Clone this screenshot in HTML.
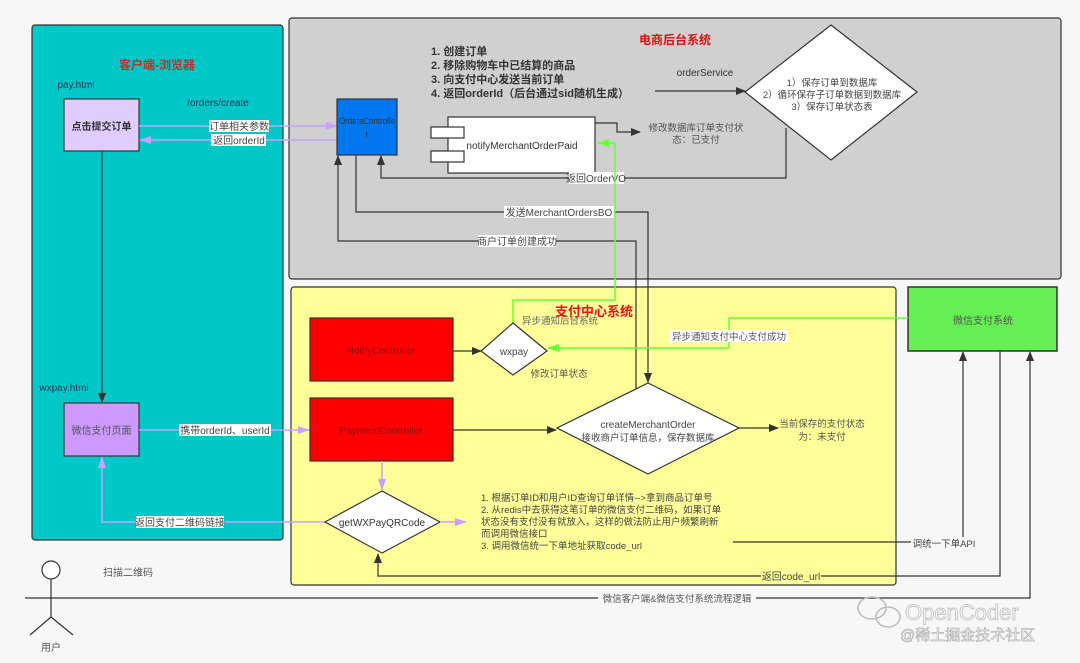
<!DOCTYPE html>
<html><head><meta charset="utf-8"><style>
html,body{margin:0;padding:0;background:#f7f7f7;}
svg{display:block;font-family:"Liberation Sans","Noto Sans CJK SC",sans-serif;}
</style></head><body>
<svg width="1080" height="663" viewBox="0 0 1080 663" xmlns="http://www.w3.org/2000/svg">
<defs>
<marker id="ab" markerWidth="10" markerHeight="10" refX="9" refY="5" orient="auto" markerUnits="userSpaceOnUse"><path d="M0,1 L10,5 L0,9 Z" fill="#333"/></marker>
<marker id="ap" markerWidth="12" markerHeight="10" refX="11" refY="5" orient="auto" markerUnits="userSpaceOnUse"><path d="M0,1 L12,5 L0,9 Z" fill="#c9a0ff"/></marker>
<marker id="ag" markerWidth="12" markerHeight="10" refX="11" refY="5" orient="auto" markerUnits="userSpaceOnUse"><path d="M0,1 L12,5 L0,9 Z" fill="#66ff33"/></marker>
</defs>
<rect width="1080" height="663" fill="#f7f7f7"/>
<rect x="32" y="25" width="251" height="515" rx="3" fill="#00c8c8" stroke="#333" stroke-width="1.2"/>
<rect x="289" y="18" width="772" height="261" rx="3" fill="#d0d0d0" stroke="#333" stroke-width="1.2"/>
<rect x="291" y="287" width="605" height="298" rx="3" fill="#ffff99" stroke="#333" stroke-width="1.2"/>
<rect x="908" y="287" width="149" height="64" fill="#66ee55" stroke="#333" stroke-width="1.5"/>
<text x="983" y="324" font-size="10" fill="#555" text-anchor="middle">微信支付系统</text>

<text x="157" y="69" font-size="12" font-weight="bold" fill="#c0302a" text-anchor="middle">客户端-浏览器</text>
<text x="675" y="44" font-size="12" font-weight="bold" fill="#dd1111" text-anchor="middle">电商后台系统</text>
<text x="594" y="316" font-size="13" font-weight="bold" fill="#ee1111" text-anchor="middle">支付中心系统</text>

<text x="76" y="88" font-size="10" fill="#335" text-anchor="middle">pay.html</text>
<text x="218" y="106" font-size="10" fill="#335" text-anchor="middle">/orders/create</text>
<rect x="64" y="99" width="75" height="52" fill="#e0ccff" stroke="#333" stroke-width="1.2"/>
<text x="101.5" y="130" font-size="10" font-weight="bold" fill="#333" text-anchor="middle">点击提交订单</text>
<line x1="139" y1="126" x2="337" y2="126" stroke="#c9a0ff" stroke-width="1.5" marker-end="url(#ap)"/>
<line x1="337" y1="140" x2="140" y2="140" stroke="#c9a0ff" stroke-width="1.5" marker-end="url(#ap)"/>
<rect x="209" y="120" width="60" height="12" fill="#fff"/>
<text x="239" y="130" font-size="10" fill="#444" text-anchor="middle">订单相关参数</text>
<rect x="211" y="134" width="55" height="12" fill="#fff"/>
<text x="239" y="144" font-size="10" fill="#444" text-anchor="middle">返回orderId</text>
<line x1="102" y1="151" x2="102" y2="402" stroke="#333" stroke-width="1.2" marker-end="url(#ab)"/>
<text x="64" y="391" font-size="10" fill="#335" text-anchor="middle">wxpay.html</text>
<rect x="64" y="403" width="75" height="53" fill="#cc99ff" stroke="#333" stroke-width="1.2"/>
<text x="101.5" y="434" font-size="10" fill="#555" text-anchor="middle">微信支付页面</text>
<line x1="139" y1="430" x2="309" y2="430" stroke="#c9a0ff" stroke-width="1.5" marker-end="url(#ap)"/>
<rect x="179" y="424" width="92" height="12" fill="#fff"/>
<text x="225" y="434" font-size="10" fill="#444" text-anchor="middle">携带orderId、userId</text>
<polyline points="325,522 102,522 102,457" fill="none" stroke="#c9a0ff" stroke-width="1.5" marker-end="url(#ap)"/>
<rect x="136" y="516" width="88" height="12" fill="#fff"/>
<text x="180" y="526" font-size="10" fill="#444" text-anchor="middle">返回支付二维码链接</text>

<circle cx="51" cy="570" r="9" fill="#fff" stroke="#333" stroke-width="1.2"/>
<line x1="51" y1="579" x2="51" y2="617" stroke="#333" stroke-width="1.2"/>
<line x1="51" y1="617" x2="30" y2="635" stroke="#333" stroke-width="1.2"/>
<line x1="51" y1="617" x2="73" y2="635" stroke="#333" stroke-width="1.2"/>
<text x="51" y="651" font-size="10" fill="#555" text-anchor="middle">用户</text>
<text x="128" y="576" font-size="10" fill="#555" text-anchor="middle">扫描二维码</text>

<g font-size="11" font-weight="bold" fill="#333">
<text x="431" y="55">1. 创建订单</text>
<text x="431" y="69">2. 移除购物车中已结算的商品</text>
<text x="431" y="83">3. 向支付中心发送当前订单</text>
<text x="431" y="97">4. 返回orderId（后台通过sid随机生成）</text>
</g>
<text x="705" y="76" font-size="10" fill="#333" text-anchor="middle">orderService</text>
<line x1="655" y1="91" x2="745" y2="91" stroke="#333" stroke-width="1.3" marker-end="url(#ab)"/>
<polygon points="831,25 917,92 831,160 745,92" fill="#fff" stroke="#333" stroke-width="1.2"/>
<g font-size="9.5" fill="#444" text-anchor="middle">
<text x="832" y="86">1）保存订单到数据库</text>
<text x="832" y="98">2）循环保存子订单数据到数据库</text>
<text x="832" y="110">3）保存订单状态表</text>
</g>
<rect x="337" y="99" width="60" height="56" fill="#0077ee" stroke="#333" stroke-width="1.2"/>
<text x="367" y="124" font-size="9" fill="#333" text-anchor="middle" textLength="56" lengthAdjust="spacingAndGlyphs">OrdersControlle</text>
<text x="367" y="137" font-size="9" fill="#333" text-anchor="middle">r</text>
<rect x="448" y="117" width="147" height="56" fill="#fff" stroke="#333" stroke-width="1.2"/>
<rect x="431" y="127" width="33" height="11" fill="#fff" stroke="#333" stroke-width="1.2"/>
<rect x="431" y="151" width="33" height="11" fill="#fff" stroke="#333" stroke-width="1.2"/>
<text x="522" y="149" font-size="10" fill="#333" text-anchor="middle">notifyMerchantOrderPaid</text>
<polyline points="595,123 617,123 617,132 640,132" fill="none" stroke="#333" stroke-width="1.2" marker-end="url(#ab)"/>
<text x="696" y="131" font-size="9.5" fill="#555" text-anchor="middle">修改数据库订单支付状</text>
<text x="696" y="143" font-size="9.5" fill="#555" text-anchor="middle">态：已支付</text>
<polyline points="786,128 786,178 381,178 381,156" fill="none" stroke="#333" stroke-width="1.2" marker-end="url(#ab)"/>
<rect x="569" y="172" width="55" height="12" fill="#fff"/>
<text x="596" y="182" font-size="10" fill="#444" text-anchor="middle">返回OrderVO</text>
<polyline points="356,155 356,212 648,212 648,382" fill="none" stroke="#333" stroke-width="1.2" marker-end="url(#ab)"/>
<rect x="504" y="206" width="110" height="12" fill="#fff"/>
<text x="559" y="216" font-size="10" fill="#444" text-anchor="middle">发送MerchantOrdersBO</text>
<polyline points="636,391 636,241 338,241 338,156" fill="none" stroke="#333" stroke-width="1.2" marker-end="url(#ab)"/>
<rect x="478" y="235" width="78" height="12" fill="#fff"/>
<text x="517" y="245" font-size="10" fill="#444" text-anchor="middle">商户订单创建成功</text>
<polyline points="513,323 513,300 615,300 615,143 598,143" fill="none" stroke="#66ff33" stroke-width="1.5" marker-end="url(#ag)"/>

<text x="560" y="324" font-size="9.5" fill="#666" text-anchor="middle">异步通知后台系统</text>
<rect x="310" y="318" width="143" height="63" fill="#ff0000" stroke="#333" stroke-width="1.2"/>
<text x="381" y="354" font-size="10" fill="#8a1010" text-anchor="middle">NotifyController</text>
<line x1="453" y1="351" x2="481" y2="351" stroke="#333" stroke-width="1.3" marker-end="url(#ab)"/>
<polygon points="513,323 547,351 513,375 481,351" fill="#fff" stroke="#333" stroke-width="1.2"/>
<text x="514" y="355" font-size="10" fill="#444" text-anchor="middle">wxpay</text>
<text x="559" y="377" font-size="9.5" fill="#555" text-anchor="middle">修改订单状态</text>
<polyline points="908,318 729,318 729,348 548,348" fill="none" stroke="#66ff33" stroke-width="1.5" marker-end="url(#ag)"/>
<rect x="670" y="330" width="118" height="12" fill="#fff"/>
<text x="729" y="340" font-size="9.5" fill="#555" text-anchor="middle">异步通知支付中心支付成功</text>
<rect x="310" y="398" width="143" height="63" fill="#ff0000" stroke="#333" stroke-width="1.2"/>
<text x="381" y="434" font-size="10" fill="#8a1010" text-anchor="middle">PaymentController</text>
<line x1="453" y1="430" x2="556" y2="430" stroke="#333" stroke-width="1.3" marker-end="url(#ab)"/>
<polygon points="648,383 739,428 648,474 557,428" fill="#fff" stroke="#333" stroke-width="1.2"/>
<text x="648" y="428" font-size="10" fill="#444" text-anchor="middle">createMerchantOrder</text>
<text x="648" y="441" font-size="9.5" fill="#444" text-anchor="middle">接收商户订单信息，保存数据库</text>
<line x1="739" y1="428" x2="778" y2="428" stroke="#333" stroke-width="1.3" marker-end="url(#ab)"/>
<text x="822" y="427" font-size="9.5" fill="#555" text-anchor="middle">当前保存的支付状态</text>
<text x="822" y="440" font-size="9.5" fill="#555" text-anchor="middle">为：未支付</text>
<line x1="382" y1="461" x2="382" y2="490" stroke="#c9a0ff" stroke-width="1.5" marker-end="url(#ap)"/>
<polygon points="382,491 440,522 382,553 325,522" fill="#fff" stroke="#333" stroke-width="1.2"/>
<text x="382" y="526" font-size="10" fill="#333" text-anchor="middle">getWXPayQRCode</text>
<line x1="440" y1="522" x2="466" y2="522" stroke="#c9a0ff" stroke-width="1.5" marker-end="url(#ap)"/>
<g font-size="9.5" fill="#444">
<text x="481" y="501">1. 根据订单ID和用户ID查询订单详情--&gt;拿到商品订单号</text>
<text x="481" y="513">2. 从redis中去获得这笔订单的微信支付二维码，如果订单</text>
<text x="481" y="525">状态没有支付没有就放入，这样的做法防止用户频繁刷新</text>
<text x="481" y="537">而调用微信接口</text>
<text x="481" y="549">3. 调用微信统一下单地址获取code_url</text>
</g>
<polyline points="733,542 963,542 963,352" fill="none" stroke="#333" stroke-width="1.2" marker-end="url(#ab)"/>
<rect x="911" y="537" width="66" height="12" fill="#f7f7f7"/>
<text x="944" y="547" font-size="9.5" fill="#444" text-anchor="middle">调统一下单API</text>
<polyline points="1000,351 1000,576 378,576 378,554" fill="none" stroke="#333" stroke-width="1.2" marker-end="url(#ab)"/>
<rect x="761" y="570" width="60" height="12" fill="#ffff99"/>
<text x="791" y="580" font-size="10" fill="#444" text-anchor="middle">返回code_url</text>
<polyline points="25,598 1030,598 1030,352" fill="none" stroke="#333" stroke-width="1.2" marker-end="url(#ab)"/>
<rect x="598" y="592" width="158" height="12" fill="#f7f7f7"/>
<text x="677" y="602" font-size="9.5" fill="#555" text-anchor="middle">微信客户端&amp;微信支付系统流程逻辑</text>

<g fill="none" stroke="#bbb" stroke-width="1.5">
<ellipse cx="872" cy="608" rx="14" ry="11"/>
<ellipse cx="888" cy="617" rx="12" ry="10"/>
</g>
<text x="905" y="620" font-size="22" fill="#fff" stroke="#bbb" stroke-width="0.8">OpenCoder</text>
<text x="900" y="640" font-size="15" fill="#fff" stroke="#aaa" stroke-width="0.6">@稀土掘金技术社区</text>
</svg>
</body></html>
